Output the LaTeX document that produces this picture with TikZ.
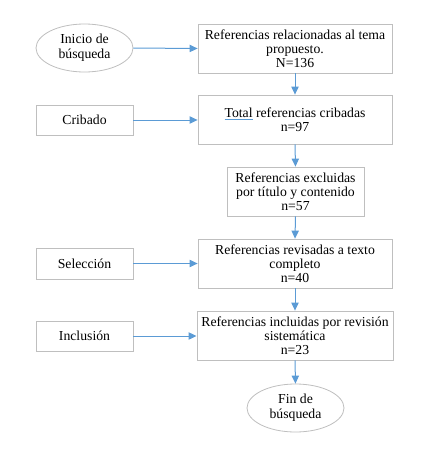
\documentclass[tikz,border=0pt]{standalone}
\usepackage{fontspec}
\setmainfont{Liberation Serif}
\usetikzlibrary{shapes.geometric,arrows.meta,shadows}
\definecolor{arrowblue}{HTML}{5B9BD5}
\definecolor{boxgray}{HTML}{BFBFBF}
\begin{document}
\begin{tikzpicture}[x=0.75pt,y=-0.75pt,
  box/.style={draw=boxgray,line width=0.6pt,fill=white,align=center,font=\fontsize{10.3}{10.5}\selectfont,
    drop shadow={shadow xshift=0.8pt,shadow yshift=-0.8pt,fill=gray!35,opacity=0.8}},
  oval/.style={ellipse,draw=boxgray,line width=0.6pt,fill=white,align=center,font=\fontsize{10.3}{11.5}\selectfont,inner sep=0pt},
  conn/.style={draw=arrowblue,line width=0.75pt,-{Triangle[length=6pt,width=5.5pt,fill=arrowblue]}}]
\useasboundingbox (0,0) rectangle (430,454);
\node[oval,minimum width=97*0.75pt,minimum height=48*0.75pt] (inicio) at (84.5,48) {Inicio de\\búsqueda};
\node[box,minimum width=194*0.75pt,minimum height=49*0.75pt] (b1) at (295,48.5) {Referencias relacionadas al tema\\propuesto.\\N=136};
\node[box,minimum width=97*0.75pt,minimum height=30*0.75pt] (crib) at (84.5,120) {Cribado};
\node[box,minimum width=194*0.75pt,minimum height=49*0.75pt] (b2) at (295,119.5) {{\color{arrowblue}\underline{\color{black}Total}} referencias cribadas\\n=97};
\node[box,minimum width=137*0.75pt,minimum height=49*0.75pt] (b3) at (295.5,191.5) {Referencias excluidas\\por título y contenido\\n=57};
\node[box,minimum width=97*0.75pt,minimum height=31*0.75pt] (sel) at (84.5,263.5) {Selección};
\node[box,minimum width=194*0.75pt,minimum height=49*0.75pt] (b4) at (295,263.5) {Referencias revisadas a texto\\completo\\n=40};
\node[box,minimum width=97*0.75pt,minimum height=30*0.75pt] (inc) at (84.5,336) {Inclusión};
\node[box,minimum width=194*0.75pt,minimum height=49*0.75pt] (b5) at (295,335.5) {Referencias incluidas por revisión\\sistemática\\n=23};
\node[oval,minimum width=97*0.75pt,minimum height=48*0.75pt] (fin) at (295.5,408) {Fin de\\búsqueda};
\draw[conn] (inicio.east) -- (b1.west);
\draw[conn] (crib.east) -- (crib.east -| b2.west);
\draw[conn] (sel.east) -- (sel.east -| b4.west);
\draw[conn] (inc.east) -- (inc.east -| b5.west);
\draw[conn] (b1.south) -- (b2.north);
\draw[conn] (b2.south) -- (b3.north);
\draw[conn] (b3.south) -- (b4.north);
\draw[conn] (b4.south) -- (b5.north);
\draw[conn] (b5.south) -- (fin.north);
\end{tikzpicture}
\end{document}
